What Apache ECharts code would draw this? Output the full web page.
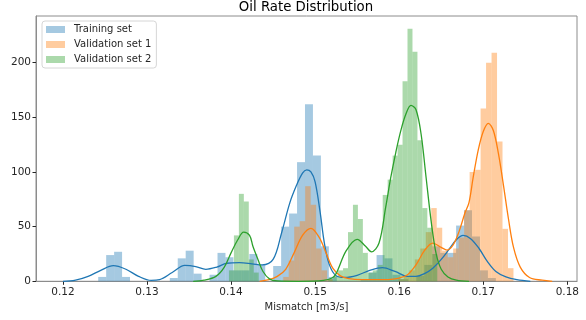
<!DOCTYPE html>
<html>
<head>
<meta charset="utf-8">
<script src="https://cdn.jsdelivr.net/npm/echarts@6/dist/echarts.min.js"></script>
<style>
  html, body { margin: 0; padding: 0; background: #fff; }
  #chart { width: 586px; height: 320px; }
</style>
</head>
<body>
<div id="chart"></div>
<script>
// Histogram bins: first edge, bin width and density heights per bin
const trainStart = 0.1242, trainWidth = 0.000946;
const trainCounts = [4, 24, 27, 4, 0, 0, 0, 0, 0, 3,
                     21, 28, 7, 0, 6, 26, 22, 10, 10, 25,
                     15, 0, 14, 50, 62, 109, 162, 115, 32, 4,
                     0, 0, 0, 2, 8, 24, 21, 6, 2, 0,
                     5, 15, 32, 26, 26, 51, 65, 41, 10, 3];

const val1Start = 0.14621, val1Width = 0.000652;
const val1Counts = [4, 19, 50, 55, 87, 70, 30, 10, 2, 0,
                    0, 0, 0, 0, 0, 0, 0, 0, 0, 0,
                    0, 2, 5, 10, 20, 30, 45, 67, 49, 28,
                    22, 30, 40, 65, 100, 102, 158, 200, 209, 128,
                    48, 12];

const val2Start = 0.13975, val2Width = 0.00059;
const val2Counts = [10, 42, 80, 73, 20, 8, 0, 0, 0, 0,
                    0, 0, 0, 0, 0, 0, 0, 0, 0, 0,
                    2, 5, 10, 12, 45, 70, 57, 26, 8, 10,
                    15, 79, 93, 115, 125, 183, 231, 210, 129, 67,
                    49, 25];

// Kernel density curves (x, density)
const trainKdeX = [0.1200, 0.1215, 0.1230, 0.1245, 0.1260, 0.1275, 0.1290, 0.1305, 0.1315, 0.1330,
                   0.1345, 0.1358, 0.1370, 0.1383, 0.1395, 0.1410, 0.1425, 0.1437, 0.1450, 0.1460,
                   0.1470, 0.1478, 0.1485, 0.1490, 0.1495, 0.1500, 0.1506, 0.1511, 0.1517, 0.1525,
                   0.1535, 0.1550, 0.1565, 0.1580, 0.1595, 0.1610, 0.1620, 0.1630, 0.1640, 0.1650,
                   0.1660, 0.1668, 0.1676, 0.1685, 0.1695, 0.1705, 0.1715, 0.1727, 0.1740, 0.1756];
const trainKdeY = [0, 1, 4.5, 10, 14.3, 11, 4.5, 0.8, 1.5, 8,
                   14.5, 13.5, 11, 13, 16.5, 17, 16, 15, 20, 44,
                   72, 88, 99, 102, 100, 91, 63, 35, 15, 5,
                   3.5, 5.5, 10, 12.5, 9, 4.5, 4.5, 7, 12, 20,
                   30, 38, 42, 39, 30, 18, 9, 4, 1.5, 0];

const val1KdeX = [0.1434, 0.1445, 0.1455, 0.1465, 0.1475, 0.1485, 0.1495, 0.1505, 0.1513, 0.1521,
                  0.1530, 0.1540, 0.1555, 0.1575, 0.1590, 0.1600, 0.1610, 0.1620, 0.1630, 0.1640,
                  0.1650, 0.1657, 0.1664, 0.1671, 0.1678, 0.1683, 0.1688, 0.1694, 0.1700, 0.1706,
                  0.1712, 0.1718, 0.1724, 0.1730, 0.1736, 0.1744, 0.1755, 0.1770, 0.1782];
const val1KdeY = [0, 1.5, 4.5, 11, 26, 42, 48.5, 40, 26, 12,
                  5, 2.5, 1.5, 1.5, 1.8, 3, 6, 15, 28, 35,
                  31, 28.6, 33, 45, 62, 72, 95, 120, 137, 144.5,
                  138, 117, 88, 57, 31, 13, 3.5, 1, 0];

const val2KdeX = [0.1355, 0.1368, 0.1382, 0.1392, 0.1400, 0.1408, 0.1415, 0.1422, 0.1426, 0.1432,
                  0.1438, 0.1446, 0.1455, 0.1480, 0.1510, 0.1520, 0.1525, 0.1537, 0.1550, 0.1560,
                  0.1567, 0.1576, 0.1584, 0.1590, 0.1596, 0.1602, 0.1608, 0.1614, 0.1620, 0.1626,
                  0.1632, 0.1638, 0.1644, 0.1650, 0.1658, 0.1668, 0.1683];
const val2KdeY = [0, 1, 4.5, 13, 26, 38, 45, 42, 32, 20,
                  9, 2, 0.3, 0, 0.8, 3, 7, 28, 38.4, 32,
                  27, 35, 68, 95, 118, 138, 153, 161, 157, 135,
                  95, 55, 25, 11, 4, 1, 0];

const seriesNames = ['Training set', 'Validation set 1', 'Validation set 2'];
const xTicks = [0.12, 0.13, 0.14, 0.15, 0.16, 0.17, 0.18];
const yTicks = [0, 50, 100, 150, 200];

const palette = ['#1f77b4', '#ff7f0e', '#2ca02c'];
const fills = ['rgba(31,119,180,0.4)', 'rgba(255,127,14,0.4)', 'rgba(44,160,44,0.4)'];
const FONT = 'DejaVu Sans';
const INK = '#262626';

function binRows(start, width, counts) {
  const rows = [];
  counts.forEach((c, k) => {
    if (c > 0) rows.push([start + k * width, start + (k + 1) * width, c]);
  });
  return rows;
}

function histSeries(name, rows, fill) {
  return {
    name: name,
    type: 'custom',
    z: 1,
    silent: true,
    itemStyle: { color: fill },
    encode: { x: [0, 1], y: 2 },
    data: rows,
    renderItem: function (params, api) {
      const top = api.coord([api.value(0), api.value(2)]);
      const bottom = api.coord([api.value(1), 0]);
      return {
        type: 'rect',
        shape: { x: top[0], y: top[1], width: bottom[0] - top[0], height: bottom[1] - top[1] },
        style: { fill: fill }
      };
    }
  };
}

function kdeSeries(name, xs, ys, color) {
  return {
    name: name,
    type: 'line',
    z: 2,
    silent: true,
    smooth: 0.35,
    showSymbol: false,
    lineStyle: { color: color, width: 1.3 },
    data: xs.map((x, i) => [x, ys[i]])
  };
}

const chart = echarts.init(document.getElementById('chart'), null, { renderer: 'canvas' });

chart.setOption({
  animation: false,
  backgroundColor: '#ffffff',
  title: {
    text: 'Oil Rate Distribution',
    left: 306, top: 1, textAlign: 'center', padding: 0,
    textStyle: { fontFamily: FONT, fontSize: 13.3, fontWeight: 'normal', color: '#000' }
  },
  legend: {
    data: seriesNames,
    orient: 'vertical',
    left: 42, top: 21,
    padding: [1, 5, 1, 4],
    itemGap: 0,
    itemWidth: 19, itemHeight: 7,
    icon: 'rect',
    backgroundColor: '#ffffff',
    borderColor: '#d6d6d6',
    borderWidth: 1,
    borderRadius: 3,
    textStyle: { fontFamily: FONT, fontSize: 10, color: INK, lineHeight: 15, padding: [0, 0, 0, 4] }
  },
  grid: {
    left: 36, right: 9, top: 16, bottom: 38.7,
    show: true, borderColor: '#8c8c8c', borderWidth: 1, backgroundColor: 'transparent'
  },
  xAxis: {
    type: 'value',
    min: 0.1168, max: 0.18115,
    name: 'Mismatch [m3/s]',
    nameLocation: 'middle', nameGap: 17,
    nameTextStyle: { fontFamily: FONT, fontSize: 10, color: INK },
    axisLine: { show: true, lineStyle: { color: '#8c8c8c' } },
    axisTick: { show: true, length: 3.5, customValues: xTicks, lineStyle: { color: INK } },
    axisLabel: {
      customValues: xTicks, margin: 5,
      fontFamily: FONT, fontSize: 10.5, color: INK,
      formatter: v => v.toFixed(2)
    },
    splitLine: { show: false }
  },
  yAxis: {
    type: 'value',
    min: 0, max: 242.7,
    axisLine: { show: true, lineStyle: { color: '#8c8c8c' } },
    axisTick: { show: true, length: 3.5, customValues: yTicks, lineStyle: { color: INK } },
    axisLabel: {
      customValues: yTicks, margin: 5,
      fontFamily: FONT, fontSize: 10.5, color: INK
    },
    splitLine: { show: false }
  },
  series: [
    histSeries(seriesNames[0], binRows(trainStart, trainWidth, trainCounts), fills[0]),
    histSeries(seriesNames[1], binRows(val1Start, val1Width, val1Counts), fills[1]),
    histSeries(seriesNames[2], binRows(val2Start, val2Width, val2Counts), fills[2]),
    kdeSeries('Training set KDE', trainKdeX, trainKdeY, palette[0]),
    kdeSeries('Validation set 1 KDE', val1KdeX, val1KdeY, palette[1]),
    kdeSeries('Validation set 2 KDE', val2KdeX, val2KdeY, palette[2])
  ]
});
</script>
</body>
</html>
